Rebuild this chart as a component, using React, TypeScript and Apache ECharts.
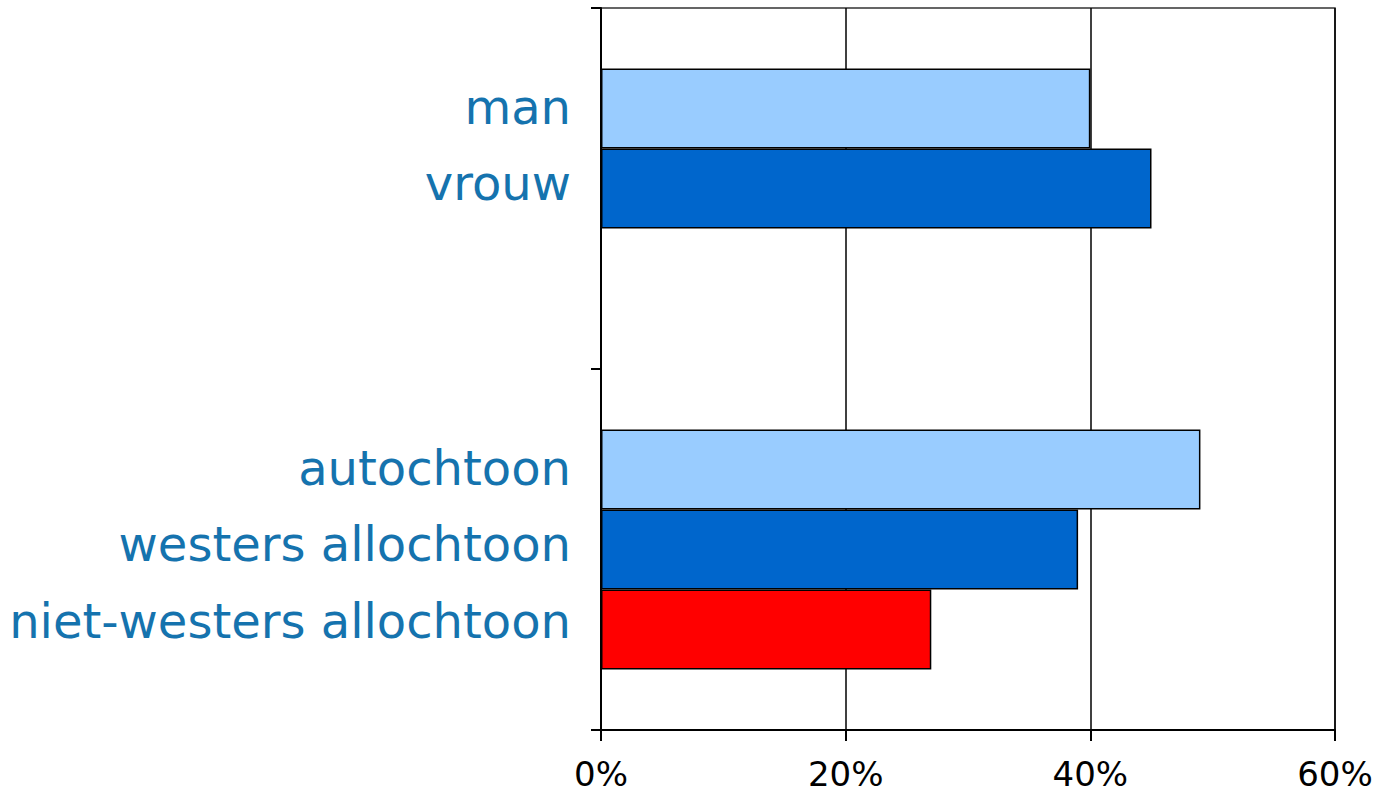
import React, { useEffect, useRef } from "react";
import * as echarts from "echarts";

const groups = ["geslacht", "herkomst"];
const seriesNames = ["reeks1", "reeks2", "reeks3"];
const lightValues = [40, 49];
const darkValues = [45, 39];
const redValues: (number | null)[] = [null, 27];
const lightLabels = ["man", "autochtoon"];
const darkLabels = ["vrouw", "westers allochtoon"];
const redLabels = ["", "niet-westers allochtoon"];
const xTicks = [0, 20, 40, 60];

export default function App() {
  const ref = useRef<HTMLDivElement>(null);
  useEffect(() => {
    if (!ref.current) return;
    const chart = echarts.init(ref.current, null, { renderer: "svg" });
    const labelStyle = (labels: string[], offsetY: number) => ({
      show: true,
      position: "left" as const,
      distance: 30,
      offset: [0, offsetY],
      fontFamily: "DejaVu Sans",
      fontSize: 48,
      color: "#1573ae",
      formatter: (p: any) => labels[p.dataIndex] || "",
    });
    const itemStyle = (color: string) => ({
      color,
      borderColor: "#000",
      borderWidth: 1.5,
    });
    chart.setOption({
      animation: false,
      backgroundColor: "#fff",
      grid: {
        left: 601,
        right: 51,
        top: 8,
        bottom: 64,
        show: true,
        borderColor: "#333",
        borderWidth: 1.5,
      },
      xAxis: {
        type: "value",
        min: xTicks[0],
        max: xTicks[xTicks.length - 1],
        interval: 20,
        axisLine: { show: true, lineStyle: { color: "#000", width: 2 } },
        axisTick: { show: true, length: 11, lineStyle: { color: "#000", width: 2 } },
        splitLine: { show: true, lineStyle: { color: "#000", width: 1.5 } },
        axisLabel: {
          formatter: "{value}%",
          fontFamily: "DejaVu Sans",
          fontSize: 34,
          lineHeight: 34,
          color: "#000",
          margin: 27,
        },
      },
      yAxis: {
        type: "category",
        data: groups,
        inverse: true,
        axisLine: { show: true, lineStyle: { color: "#000", width: 2 } },
        axisTick: { show: true, length: 10, lineStyle: { color: "#000", width: 2 } },
        axisLabel: { show: false },
        splitLine: { show: false },
      },
      series: [
        {
          name: seriesNames[0],
          type: "bar",
          data: lightValues,
          barWidth: 80,
          barGap: "0%",
          itemStyle: itemStyle("#99ccff"),
          label: labelStyle(lightLabels, -2),
        },
        {
          name: seriesNames[1],
          type: "bar",
          data: darkValues,
          barWidth: 80,
          barGap: "0%",
          itemStyle: itemStyle("#0066cc"),
          label: labelStyle(darkLabels, -6),
        },
        {
          name: seriesNames[2],
          type: "bar",
          data: redValues,
          barWidth: 80,
          barGap: "0%",
          itemStyle: itemStyle("#ff0000"),
          label: labelStyle(redLabels, -9),
        },
      ],
    });
    return () => chart.dispose();
  }, []);
  return (
    <div
      ref={ref}
      style={{ position: "fixed", left: 0, top: 0, width: 1386, height: 794 }}
    />
  );
}
